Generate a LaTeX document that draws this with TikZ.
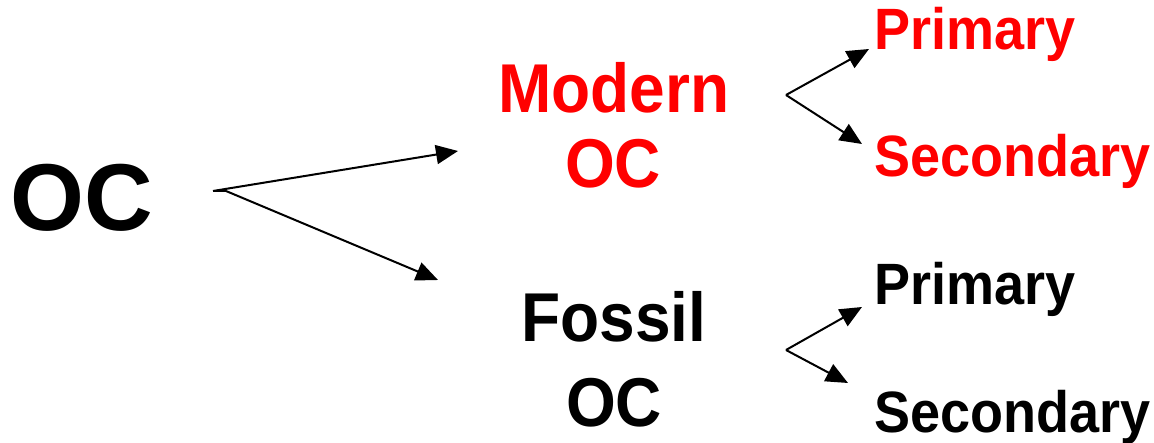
\documentclass[tikz,border=0pt]{standalone}
\usepackage{fontspec}
\setmainfont{Liberation Sans}
\usetikzlibrary{arrows.meta}
\definecolor{myred}{RGB}{255,0,0}
\newcommand{\tallx}[1]{\scalebox{1}[1.08]{#1}}
\tikzset{
  lbl/.style={inner sep=0pt, outer sep=0pt, font=\bfseries},
  conn/.style={line width=2pt, -{Triangle[length=22pt,width=19pt]}},
}
\begin{document}
\begin{tikzpicture}[x=1pt,y=-1pt]
\useasboundingbox (0,0) rectangle (1154,443);
% texts
\node[lbl, anchor=base, font=\fontsize{95}{95}\selectfont\bfseries] (oc) at (82,231) {OC};
\node[lbl, anchor=base, text=myred, font=\fontsize{64}{64}\selectfont\bfseries] (modern) at (614,113) {\tallx{Modern}};
\node[lbl, anchor=base, text=myred, font=\fontsize{64}{64}\selectfont\bfseries] (modernoc) at (613,188) {\tallx{OC}};
\node[lbl, anchor=base, font=\fontsize{64}{64}\selectfont\bfseries] (fossil) at (614,342) {\tallx{Fossil}};
\node[lbl, anchor=base, font=\fontsize{64}{64}\selectfont\bfseries] (fossiloc) at (614,426) {\tallx{OC}};
\node[lbl, anchor=base west, text=myred, font=\fontsize{54}{54}\selectfont\bfseries] (mprim) at (874,50) {\tallx{Primary}};
\node[lbl, anchor=base west, text=myred, font=\fontsize{54}{54}\selectfont\bfseries] (msec) at (874,177) {\tallx{Secondary}};
\node[lbl, anchor=base west, font=\fontsize{54}{54}\selectfont\bfseries] (fprim) at (874,305) {\tallx{Primary}};
\node[lbl, anchor=base west, font=\fontsize{54}{54}\selectfont\bfseries] (fsec) at (874,432) {\tallx{Secondary}};
% connector points
\coordinate (s1) at (213,191);
\coordinate (s2) at (226,191);
\coordinate (t1) at (458,151);
\coordinate (t2) at (438,280);
\coordinate (vm) at (786,95);
\coordinate (tmp) at (869,49);
\coordinate (tms) at (862,144);
\coordinate (vf) at (786,350);
\coordinate (tfp) at (862,307);
\coordinate (tfs) at (848,383);
% connectors
\draw[conn] (s1) -- (t1);
\draw[conn] (s2) -- (t2);
\draw[line width=2pt] (s1) -- (s2);
\draw[conn] (vm) -- (tmp);
\draw[conn] (vm) -- (tms);
\draw[conn] (vf) -- (tfp);
\draw[conn] (vf) -- (tfs);
\end{tikzpicture}
\end{document}
